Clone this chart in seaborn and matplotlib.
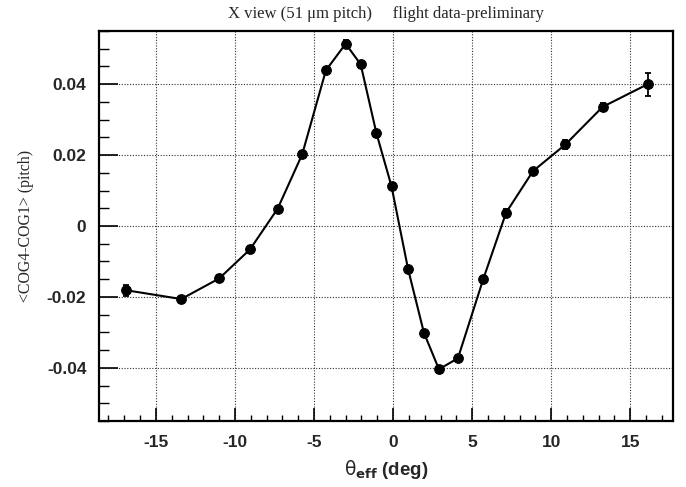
import matplotlib
matplotlib.use("Agg")
import matplotlib.pyplot as plt
import seaborn as sns
import numpy as np
import pandas as pd
from matplotlib.ticker import MultipleLocator

theta = [-16.9, -13.4, -11.0, -9.05, -7.3, -5.75, -4.25, -3.0, -2.05, -1.05, -0.1,
         0.95, 1.95, 2.9, 4.1, 5.7, 7.15, 8.85, 10.9, 13.25, 16.1]
cog = [-0.0181, -0.0206, -0.0148, -0.0066, 0.0049, 0.0202, 0.0439, 0.0514, 0.0456,
       0.0261, 0.0112, -0.0122, -0.0301, -0.0404, -0.0373, -0.0150, 0.0038, 0.0155,
       0.0230, 0.0336, 0.0400]
err = [0.0015, 0.0010, 0.0009, 0.0009, 0.0008, 0.0008, 0.0008, 0.0010, 0.0009,
       0.0009, 0.0008, 0.0009, 0.0009, 0.0010, 0.0009, 0.0010, 0.0010, 0.0010,
       0.0012, 0.0012, 0.0033]

df = pd.DataFrame({"theta": theta, "cog": cog, "err": err})

sns.set_style("white")
fig = plt.figure(figsize=(6.86, 4.87), dpi=100)
ax = fig.add_axes([0.1443, 0.1355, 0.981 - 0.1443, 0.9363 - 0.1355])

ax.errorbar(df["theta"], df["cog"], yerr=df["err"], fmt="none", ecolor="black",
            elinewidth=1.3, capsize=2.5, capthick=1.3, zorder=3)
sns.lineplot(data=df, x="theta", y="cog", ax=ax, color="black", linewidth=1.5,
             marker="o", markersize=7, markeredgecolor="black", zorder=4)

ax.set_xlim(-18.6, 17.7)
ax.set_ylim(-0.055, 0.055)
ax.xaxis.set_major_locator(MultipleLocator(5))
ax.xaxis.set_minor_locator(MultipleLocator(1))
ax.yaxis.set_major_locator(MultipleLocator(0.02))
ax.yaxis.set_minor_locator(MultipleLocator(0.005))

ax.grid(True, which="major", linestyle=(0, (1, 1.5)), color="#333333", linewidth=0.8)
ax.set_axisbelow(True)

ax.tick_params(axis="both", which="both", direction="in", top=False, right=False,
               bottom=True, left=True, color="black")
ax.tick_params(axis="x", which="major", length=9.5, width=1.2)
ax.tick_params(axis="x", which="minor", length=4.5, width=1.0)
ax.tick_params(axis="y", which="major", length=14, width=1.2)
ax.tick_params(axis="y", which="minor", length=7, width=1.0)

def yfmt(v, pos):
    if abs(v) < 1e-9:
        return "0"
    return f"{v:.2f}"
ax.yaxis.set_major_formatter(plt.FuncFormatter(yfmt))
ax.xaxis.set_major_formatter(plt.FuncFormatter(lambda v, p: f"{int(round(v))}"))

for lab in ax.get_xticklabels() + ax.get_yticklabels():
    lab.set_fontfamily("Liberation Sans")
    lab.set_fontweight("bold")
    lab.set_fontsize(12.5)
ax.tick_params(axis="x", which="major", pad=10)
ax.tick_params(axis="y", which="major", pad=9)

for s in ax.spines.values():
    s.set_linewidth(1.6)
    s.set_color("black")

ax.set_xlabel(r"$\mathrm{\theta}_{\mathbf{eff}}$ (deg)", fontfamily="Liberation Sans",
              fontweight="bold", fontsize=13.5, labelpad=6)
ax.set_ylabel("<COG4-COG1> (pitch)", fontfamily="Liberation Serif", fontsize=11.4,
              labelpad=9)
fig.text(0.563, 0.972, "X view (51 μm pitch)     flight data-preliminary",
         ha="center", va="center", fontfamily="Liberation Serif", fontsize=12)

fig.savefig("out.png", dpi=100)
